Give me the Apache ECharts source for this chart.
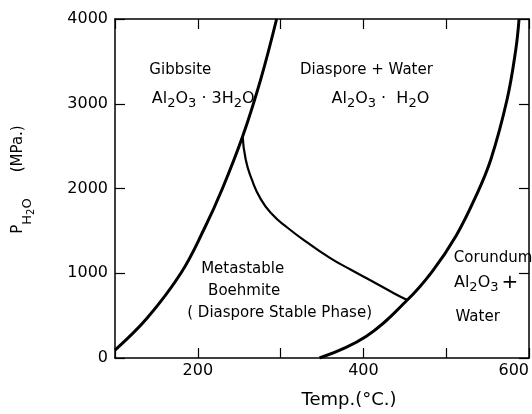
<!DOCTYPE html>
<html><head><meta charset="utf-8">
<script src="https://cdn.jsdelivr.net/npm/echarts@6/dist/echarts.min.js"></script>
<style>html,body{margin:0;padding:0;background:#fff}#c{width:532px;height:414px}</style>
</head><body><div id="c"></div>
<script>
// ---- data ----
const xTickLabels = [200, 400, 600];
const yTickLabels = [0, 1000, 2000, 3000, 4000];

// Gibbsite / boehmite boundary
const gibbsiteT = [100, 138.6, 179.5, 207.8, 229.5, 254.2, 275.9, 295.2];
const gibbsiteP = [94, 469, 1000, 1525, 1994, 2616, 3285, 4000];

// Boehmite (metastable) / diaspore boundary
const boehmiteT = [254.2, 257.8, 265.1, 275.9, 290.4, 308.4, 332.5, 359, 385.5, 413.3, 437.3, 453];
const boehmiteP = [2616, 2346, 2111, 1877, 1689, 1537, 1361, 1185, 1038, 891, 762, 684];

// Diaspore / corundum boundary
const corundumT = [347, 403.6, 453, 483, 512, 536, 554, 573.5, 584, 588];
const corundumP = [0, 258, 684, 1020, 1443, 1912, 2346, 3050, 3636, 4000];

// Field labels
const fieldLabels = [
  '{t|Gibbsite}',
  '{f|Al}{s|2}{f|O}{s|3}{f| · 3H}{s|2}{f|O}',
  '{t|Diaspore + Water}',
  '{f|Al}{s|2}{f|O}{s|3}{f| ·  H}{s|2}{f|O}',
  '{t|Metastable}',
  '{t|Boehmite}',
  '{t|( Diaspore Stable Phase)}',
  '{t|Corundum}',
  '{f|Al}{s|2}{f|O}{s|3}{p|+}',
  '{t|Water}'
];
const fieldLabelT = [178.9, 206.6, 403.6, 420.5, 254.2, 256, 298.8, 556.6, 548.2, 538];
const fieldLabelP = [3402, 3062, 3402, 3062, 1044, 786, 528, 1173, 891, 481];

// ---- chart ----
const FONT = 'DejaVu Sans';
const zip = (a, b) => a.map((v, i) => [v, b[i]]);
const chart = echarts.init(document.getElementById('c'), null, {renderer: 'canvas'});

const axisLine = {show: true, onZero: false, lineStyle: {color: '#000', width: 1.5}};
const axisTick = {show: true, inside: true, length: 10, lineStyle: {color: '#000', width: 1.2}};
const txt = (size, extra) => Object.assign({fontFamily: FONT, fontSize: size, color: '#000'}, extra || {});

const option = {
  animation: false,
  backgroundColor: '#fff',
  grid: {left: 115, right: 2, top: 19, bottom: 54},
  xAxis: [{
    type: 'value', min: 100, max: 600, interval: 100, position: 'bottom',
    axisLine, axisTick, splitLine: {show: false},
    axisLabel: {
      color: '#000', fontFamily: FONT, fontSize: 16, margin: 5,
      alignMaxLabel: 'right',
      formatter: v => xTickLabels.includes(v) ? String(v) : ''
    },
    name: 'Temp.(°C.)', nameLocation: 'middle', nameGap: 33,
    nameTextStyle: {color: '#000', fontFamily: FONT, fontSize: 18, padding: [0, 0, 0, 54]}
  }, {
    type: 'value', min: 100, max: 600, interval: 100, position: 'top',
    axisLine, axisTick, splitLine: {show: false}, axisLabel: {show: false}
  }],
  yAxis: [{
    type: 'value', min: 0, max: 4000, interval: 1000, position: 'left',
    axisLine, axisTick, splitLine: {show: false},
    axisLabel: {
      color: '#000', fontFamily: FONT, fontSize: 16, margin: 7,
      formatter: v => yTickLabels.includes(v) ? String(v) : ''
    },
    name: '{p|P}{s|H}{ss|2}{s|O}{m|(MPa.)}', nameLocation: 'middle', nameGap: 79,
    nameTextStyle: {
      color: '#000', fontFamily: FONT, padding: [0, 0, 0, 18],
      rich: {
        p: txt(15),
        s: txt(13, {padding: [19, 0, 0, 0]}),
        ss: txt(10, {padding: [25, 0, 0, 0]}),
        m: txt(15, {padding: [0, 0, 0, 26]})
      }
    }
  }, {
    type: 'value', min: 0, max: 4000, interval: 1000, position: 'right',
    axisLine, axisTick, splitLine: {show: false}, axisLabel: {show: false}
  }],
  series: [
    {
      name: 'Gibbsite boundary', type: 'line', data: zip(gibbsiteT, gibbsiteP),
      smooth: 0.4, showSymbol: false, silent: true,
      lineStyle: {color: '#000', width: 3}
    },
    {
      name: 'Boehmite boundary', type: 'line', data: zip(boehmiteT, boehmiteP),
      smooth: 0.55, showSymbol: false, silent: true,
      lineStyle: {color: '#000', width: 2.2}
    },
    {
      name: 'Corundum boundary', type: 'line', data: zip(corundumT, corundumP),
      smooth: 0.4, showSymbol: false, silent: true,
      lineStyle: {color: '#000', width: 3}
    },
    {
      name: 'Field labels', type: 'scatter', silent: true, symbol: 'circle', symbolSize: 1,
      itemStyle: {color: '#fff', opacity: 0},
      data: fieldLabelT.map((t, i) => ({value: [t, fieldLabelP[i]], name: fieldLabels[i]})),
      label: {
        show: true, position: 'inside', align: 'center', verticalAlign: 'middle',
        color: '#000', opacity: 1, textBorderWidth: 0,
        formatter: p => p.name,
        rich: {
          t: txt(15),
          f: txt(16),
          s: txt(13, {padding: [10, 0, 0, 0]}),
          p: txt(20, {padding: [0, 0, 0, 3]})
        }
      }
    }
  ]
};
chart.setOption(option);
</script>
</body></html>
